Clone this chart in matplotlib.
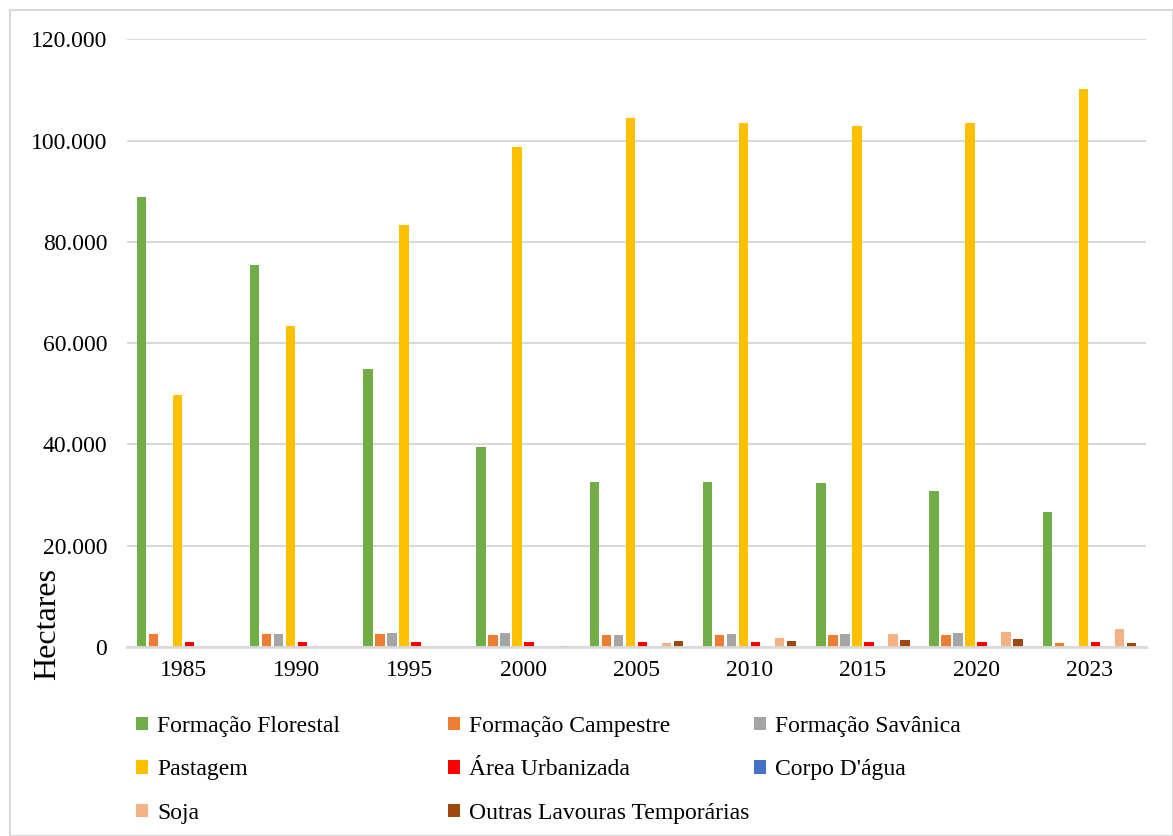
import matplotlib.pyplot as plt
import numpy as np
from matplotlib.patches import Rectangle
from matplotlib.ticker import FuncFormatter

plt.rcParams['font.family'] = ['Liberation Serif', 'DejaVu Serif']

# dados (hectares)
anos = ['1985', '1990', '1995', '2000', '2005', '2010', '2015', '2020', '2023']
series = ['Formação Florestal', 'Formação Campestre', 'Formação Savânica', 'Pastagem',
          'Área Urbanizada', "Corpo D'água", 'Soja', 'Outras Lavouras Temporárias']
florestal = [88800, 75400, 55000, 39500, 32600, 32600, 32300, 30900, 26600]
campestre = [2600, 2500, 2500, 2400, 2400, 2400, 2400, 2400, 800]
savanica = [0, 2500, 2800, 2700, 2400, 2600, 2600, 2800, 0]
pastagem = [49800, 63300, 83400, 98800, 104400, 103400, 102800, 103400, 110200]
urbanizada = [1000, 1000, 1000, 1000, 1000, 1000, 1000, 1000, 1000]
agua = [0, 0, 0, 0, 0, 0, 0, 0, 0]
soja = [0, 0, 0, 300, 850, 1800, 2600, 2900, 3500]
outras = [0, 0, 0, 200, 1250, 1100, 1400, 1600, 900]
valores = [florestal, campestre, savanica, pastagem, urbanizada, agua, soja, outras]
cores = ['#70AD47', '#ED7D31', '#A5A5A5', '#FFC000', '#FF0000', '#4472C4', '#F4B183', '#9E480E']

fig = plt.figure(figsize=(11.73, 8.36), dpi=100)
ax = fig.add_axes([0.108, 0.226, 0.869, 0.727])

x = np.arange(len(anos))
slot = 0.106
largura = 0.084
barras = []
for j, (nome, vals, cor) in enumerate(zip(series, valores, cores)):
    b = ax.bar(x + (j - 3.5) * slot, vals, largura, color=cor, label=nome, zorder=3)
    barras.append(b)

ax.set_xlim(-0.5, len(anos) - 0.5)
ax.set_ylim(0, 120000)
ax.set_yticks(np.arange(0, 120001, 20000))
ax.yaxis.set_major_formatter(FuncFormatter(lambda v, p: f'{int(v):,}'.replace(',', '.')))
ax.set_xticks(x)
ax.set_xticklabels(anos)
ax.tick_params(axis='both', length=0, labelsize=17)
ax.tick_params(axis='y', pad=14)
ax.tick_params(axis='x', pad=9)
ax.grid(axis='y', color='#D9D9D9', linewidth=1.5, zorder=0)
for s in ['top', 'right', 'left']:
    ax.spines[s].set_visible(False)
ax.spines['bottom'].set_color('#D9D9D9')
ax.spines['bottom'].set_linewidth(2)
ax.spines['bottom'].set_zorder(4)

fig.text(48 / 1173, 1 - 624 / 836, 'Hectares', rotation=90, ha='center', va='center', fontsize=23)

# legenda em três colunas alinhadas
colunas = [[0, 3, 6], [1, 4, 7], [2, 5]]
xs = [136, 448, 754]
for col, xp in zip(colunas, xs):
    leg = fig.legend([barras[k] for k in col], [series[k] for k in col],
                     loc='upper left', bbox_to_anchor=(xp / 1173, 1 - 716 / 836),
                     frameon=False, fontsize=17, handlelength=0.5, handleheight=0.5,
                     handletextpad=0.4, labelspacing=0.95, borderpad=0, borderaxespad=0)

# moldura externa
fig.patches.append(Rectangle((10 / 1173, 0), 1 - 10 / 1173, 1 - 10 / 836, transform=fig.transFigure,
                             fill=False, edgecolor='#D9D9D9', linewidth=1.5))

fig.savefig('out.png', dpi=100)
